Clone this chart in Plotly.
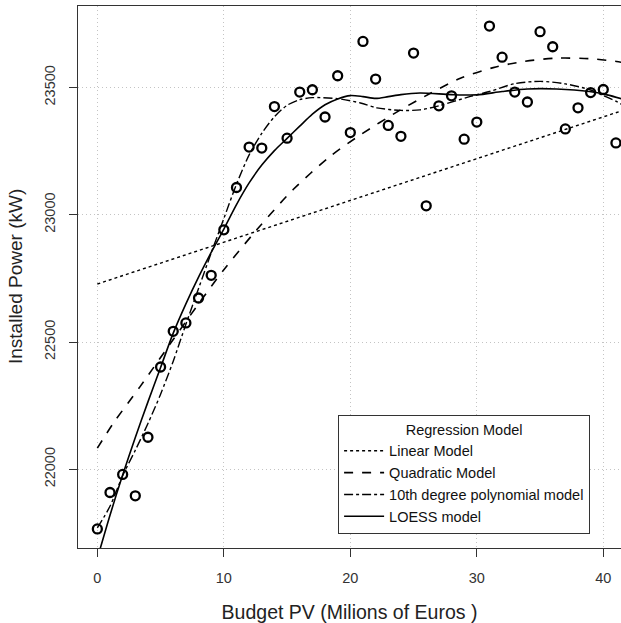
import plotly.graph_objects as go

# Observed data
budget = list(range(0, 42))
power = [21766, 21909, 21980, 21896, 22126, 22402, 22542, 22575, 22673, 22762,
         22941, 23107, 23266, 23262, 23425, 23301, 23482, 23491, 23384, 23546,
         23323, 23681, 23533, 23351, 23308, 23635, 23035, 23428, 23467, 23297,
         23364, 23741, 23619, 23482, 23443, 23719, 23660, 23337, 23420, 23480,
         23492, 23282]

# Fitted curves
lin_x = [0, 41.5]
lin_y = [22728, 23409]

quad_x = [0, 1.26, 3.38, 6, 8, 10, 12.6, 15.5, 18.4, 20.8, 23.9, 26.3, 28.7, 31.3, 33.7, 36.3, 38.9, 41.05, 41.5]
quad_y = [22083, 22181, 22325, 22510, 22650, 22784, 22941, 23100, 23229, 23314, 23410, 23476, 23536, 23578, 23602, 23615, 23613, 23602, 23598]

poly_x = [0, 1, 2, 3, 4, 5, 6, 7, 8, 9, 10, 11, 12, 13, 14, 15, 16, 17, 19, 20.8, 22.1, 24, 25.5, 27, 29.5, 31, 33, 35, 37, 39, 40, 41, 41.5]
poly_y = [21770, 21855, 21975, 22075, 22180, 22295, 22425, 22570, 22710, 22850, 22985, 23120, 23235, 23320, 23385, 23430, 23452, 23460, 23456, 23439, 23420, 23410, 23412, 23428, 23465, 23484, 23515, 23524, 23514, 23490, 23468, 23446, 23432]

loess_x = [0, 1, 2, 3, 4, 5, 6, 7, 8, 9, 10, 11, 12, 13, 14, 15, 16, 17, 18, 19, 20, 21, 22, 23, 24, 25.5, 28, 30, 32, 34, 36.3, 38.9, 40.3, 41.5]
loess_y = [21650, 21820, 21978, 22125, 22265, 22400, 22535, 22650, 22755, 22852, 22944, 23040, 23125, 23195, 23252, 23300, 23348, 23395, 23432, 23455, 23468, 23464, 23457, 23464, 23472, 23478, 23472, 23471, 23484, 23494, 23494, 23484, 23471, 23455]

x_ticks = [0, 10, 20, 30, 40]
y_ticks = [22000, 22500, 23000, 23500]

FONT = "Liberation Sans, Arial, Helvetica, sans-serif"

fig = go.Figure()
fig.add_trace(go.Scatter(x=lin_x, y=lin_y, mode="lines", name="Linear Model",
                         line=dict(color="black", width=1.4, dash="dot")))
fig.add_trace(go.Scatter(x=quad_x, y=quad_y, mode="lines", name="Quadratic Model",
                         line=dict(color="black", width=1.6, dash="dash", shape="spline", smoothing=0.8)))
fig.add_trace(go.Scatter(x=poly_x, y=poly_y, mode="lines", name="10th degree polynomial model",
                         line=dict(color="black", width=1.4, dash="dashdot", shape="spline", smoothing=0.8)))
fig.add_trace(go.Scatter(x=loess_x, y=loess_y, mode="lines", name="LOESS model",
                         line=dict(color="black", width=1.6, shape="spline", smoothing=0.8)))
fig.add_trace(go.Scatter(x=budget, y=power, mode="markers", showlegend=False,
                         marker=dict(symbol="circle-open", size=9, color="black",
                                     line=dict(width=2.3))))

fig.update_layout(
    width=621, height=623,
    margin=dict(l=78, r=0, t=6, b=75, autoexpand=False),
    paper_bgcolor="white", plot_bgcolor="white",
    font=dict(family=FONT, color="#222"),
    legend=dict(
        x=0.479, y=0.2454, xanchor="left", yanchor="top",
        bgcolor="white", bordercolor="#333", borderwidth=1,
        font=dict(size=14.5, family=FONT, color="#111"),
        title=dict(text="Regression Model", side="top center", font=dict(size=14.5, family=FONT)),
        tracegroupgap=0, itemwidth=40,
    ),
    annotations=[dict(
        text="Installed Power (kW)", textangle=-90, showarrow=False,
        xref="paper", yref="paper", x=-0.116, y=0.5, xanchor="center", yanchor="middle",
        font=dict(size=19, family=FONT, color="#222"),
    )],
)
fig.update_xaxes(
    range=[-1.53, 41.4], tickvals=x_ticks, ticktext=[str(v) for v in x_ticks],
    showgrid=True, gridcolor="#c4c4c4", griddash="1px,3px", gridwidth=1,
    zeroline=False, showline=True, mirror=True, linecolor="#333", linewidth=1,
    ticks="outside", ticklen=8, tickcolor="#333", automargin=False,
    tickfont=dict(size=14.5, color="#333"), ticklabelstandoff=9,
    title=dict(text="Budget PV (Milions of Euros )", font=dict(size=19.5, color="#222"), standoff=20),
)
fig.update_yaxes(
    range=[21691, 23820], tickvals=y_ticks, ticktext=[str(v) for v in y_ticks],
    showgrid=True, gridcolor="#c4c4c4", griddash="1px,3px", gridwidth=1,
    zeroline=False, showline=True, mirror=True, linecolor="#333", linewidth=1,
    ticks="outside", ticklen=8, tickcolor="#333", tickangle=-90, automargin=False,
    tickfont=dict(size=14.5, color="#333"), ticklabelstandoff=8,
)

fig.write_html("out.html", config={"displayModeBar": False},
               post_script="document.body.style.margin='0';document.body.style.overflow='hidden';")
